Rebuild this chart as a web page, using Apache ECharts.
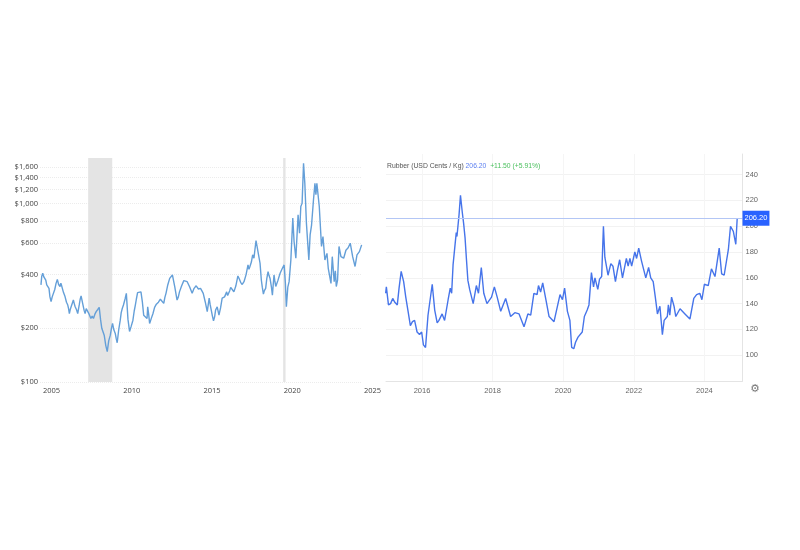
<!DOCTYPE html>
<html>
<head>
<meta charset="utf-8">
<style>
  html, body { margin: 0; padding: 0; background: #fff; }
  #chart { width: 800px; height: 550px; }
</style>
<script src="https://cdn.jsdelivr.net/npm/echarts@6/dist/echarts.min.js"></script>
</head>
<body>
<div id="chart"></div>
<script>
// left panel, log scale price in dollars: [year, price]
const leftPrices = [
  [2005.06,350],[2005.11,392],[2005.17,407],[2005.24,388],[2005.31,398],[2005.36,372],[2005.42,350],[2005.48,352],[2005.56,335],[2005.62,300],[2005.69,282],[2005.76,300],[2005.83,295],[2005.92,330],
  [2006.0,357],[2006.08,376],[2006.16,352],[2006.25,343],[2006.30,358],[2006.35,346],[2006.46,318],[2006.50,325],[2006.56,301],[2006.65,280],[2006.73,270],[2006.78,258],[2006.83,242],[2006.88,254],[2006.94,264],
  [2007.01,270],[2007.08,288],[2007.13,276],[2007.19,264],[2007.27,255],[2007.35,242],[2007.45,272],[2007.50,290],[2007.56,304],[2007.68,270],[2007.75,252],[2007.81,242],[2007.88,258],[2007.96,262],
  [2008.06,240],[2008.17,227],[2008.25,234],[2008.33,227],[2008.42,240],[2008.5,248],[2008.6,255],[2008.69,262],[2008.77,225],[2008.85,200],[2008.92,195],
  [2009.0,183],[2009.1,160],[2009.19,148],[2009.28,170],[2009.38,183],[2009.45,200],[2009.52,213],[2009.6,196],[2009.69,187],[2009.75,175],[2009.81,166],[2009.9,195],
  [2010.0,222],[2010.06,245],[2010.13,259],[2010.2,270],[2010.3,292],[2010.38,314],[2010.48,225],[2010.58,192],[2010.68,205],[2010.79,222],[2010.87,250],[2010.94,270],
  [2011.0,290],[2011.08,317],[2011.18,310],[2011.29,320],[2011.38,280],[2011.46,237],[2011.56,232],[2011.67,227],[2011.71,264],[2011.77,240],[2011.83,213],[2011.94,228],
  [2012.04,242],[2012.14,262],[2012.25,273],[2012.38,280],[2012.5,291],[2012.6,285],[2012.71,276],[2012.78,298],[2012.85,314],[2012.96,350],
  [2013.08,381],[2013.16,372],[2013.25,398],[2013.4,340],[2013.54,288],[2013.62,300],[2013.69,320],[2013.82,345],[2013.96,370],
  [2014.07,375],[2014.17,365],[2014.32,342],[2014.48,314],[2014.6,335],[2014.73,346],[2014.87,332],
  [2015.0,335],[2015.08,325],[2015.17,314],[2015.3,280],[2015.42,248],[2015.54,295],[2015.6,272],[2015.67,253],[2015.74,235],[2015.81,220],[2015.88,232],[2015.94,253],
  [2016.04,264],[2016.15,237],[2016.25,260],[2016.35,295],[2016.5,300],[2016.63,320],[2016.69,305],[2016.75,311],[2016.82,325],[2016.88,339],[2016.98,330],
  [2017.08,320],[2017.2,345],[2017.33,393],[2017.42,378],[2017.5,362],[2017.6,352],[2017.71,365],[2017.84,400],[2017.96,453],
  [2018.02,428],[2018.08,444],[2018.17,470],[2018.25,516],[2018.33,494],[2018.4,560],[2018.46,621],[2018.6,526],[2018.71,463],[2018.79,373],[2018.85,340],[2018.92,311],[2018.98,325],
  [2019.06,335],[2019.13,380],[2019.21,416],[2019.27,395],[2019.33,382],[2019.42,340],[2019.48,307],[2019.53,350],[2019.58,398],[2019.63,370],[2019.69,343],[2019.82,370],[2019.96,407],
  [2020.08,430],[2020.21,453],[2020.29,357],[2020.35,264],[2020.44,340],[2020.52,365],[2020.63,483],[2020.75,829],[2020.83,613],[2020.94,494],
  [2021.08,866],[2021.17,682],[2021.25,963],[2021.33,1003],[2021.42,1680],[2021.5,1300],[2021.6,775],[2021.75,483],[2021.83,668],[2021.92,758],
  [2022.04,1050],[2022.13,1300],[2022.19,1120],[2022.25,1300],[2022.4,963],[2022.54,575],[2022.63,654],[2022.75,483],[2022.88,526],[2022.96,434],
  [2023.13,357],[2023.21,504],[2023.33,365],[2023.4,420],[2023.46,343],[2023.54,373],[2023.63,575],[2023.75,504],[2023.92,494],
  [2024.06,548],[2024.2,565],[2024.33,600],[2024.48,504],[2024.63,444],[2024.75,516],[2024.9,538],[2025.04,587]
];
const leftTicks = [100,200,400,600,800,1000,1200,1400,1600];
const leftYearTicks = [2005,2010,2015,2020,2025];
const recessions = [[2008.0,2009.5],[2020.15,2020.3]];

// right panel, rubber price
const rightYears = [2014.97,2014.99,2015.05,2015.11,2015.17,2015.23,2015.30,2015.35,2015.41,2015.48,2015.54,2015.60,2015.67,2015.73,2015.79,2015.86,2015.93,2015.99,2016.04,2016.10,2016.17,2016.22,2016.29,2016.36,2016.43,2016.48,2016.57,2016.64,2016.74,2016.80,2016.84,2016.88,2016.92,2016.97,2016.99,2017.05,2017.09,2017.12,2017.14,2017.18,2017.22,2017.26,2017.30,2017.35,2017.45,2017.54,2017.60,2017.68,2017.75,2017.84,2017.97,2018.05,2018.13,2018.23,2018.37,2018.51,2018.63,2018.75,2018.89,2019.0,2019.08,2019.17,2019.26,2019.30,2019.36,2019.42,2019.51,2019.60,2019.74,2019.91,2019.98,2020.04,2020.12,2020.19,2020.24,2020.30,2020.35,2020.42,2020.47,2020.54,2020.60,2020.68,2020.73,2020.80,2020.86,2020.90,2020.98,2021.03,2021.09,2021.14,2021.18,2021.21,2021.27,2021.35,2021.41,2021.48,2021.53,2021.60,2021.68,2021.79,2021.84,2021.89,2021.94,2022.03,2022.08,2022.14,2022.22,2022.34,2022.42,2022.48,2022.55,2022.61,2022.67,2022.74,2022.81,2022.86,2022.95,2022.98,2023.02,2023.07,2023.14,2023.19,2023.31,2023.45,2023.59,2023.70,2023.78,2023.87,2023.93,2024.0,2024.11,2024.20,2024.30,2024.42,2024.49,2024.56,2024.68,2024.74,2024.82,2024.89,2024.93];
const rightValues = [148,153,139,140,144,141,139,152,165,157,145,135,123,126,127,118,116,118,108,106,131,131,155,135,125,127,132,127,143,152,148,170,171,195,192,209,224,223,211,202,191,174,158,151,140,154,148,168,148,140,145,153,145,134,144,130,133,132,122,132,131,148,147,154,149,156,143,130,126,147,143,152,134,127,106,105,110,114,113,118,130,135,139,164,153,160,151,159,161,200,176,177,162,171,169,157,165,174,160,175,169,175,169,180,175,183,173,160,168,160,157,145,132,138,116,127,130,139,131,145,138,130,136,132,128,144,147,148,143,155,154,167,161,183,163,162,182,200,196,186,206.2];
const rightYearTicks = [2016,2018,2020,2022,2024];
const lastPrice = 206.2;

const zip = (xs, ys) => xs.map((x, i) => [x, ys[i]]);

const chart = echarts.init(document.getElementById('chart'));
chart.setOption({
  animation: false,
  backgroundColor: '#fff',
  title: {
    left: 387,
    top: 163,
    padding: 0,
    text: 'Rubber (USD Cents / Kg) {v|206.20}  {c|+11.50 (+5.91%)}',
    textStyle: {
      fontFamily: 'Liberation Sans',
      fontSize: 6.8,
      fontWeight: 'normal',
      color: '#555',
      rich: {
        v: { fontFamily: 'Liberation Sans', fontSize: 6.8, color: '#5b7ff0' },
        c: { fontFamily: 'Liberation Sans', fontSize: 6.8, color: '#4cc05f' }
      }
    }
  },
  graphic: [
    {
      type: 'text',
      left: 750,
      top: 384,
      style: { text: '⚙', fontFamily: 'DejaVu Sans', fontSize: 11, fill: '#777' }
    }
  ],
  grid: [
    { left: 40, top: 158, width: 321, height: 224 },
    { left: 386, top: 154, width: 356.5, height: 227 }
  ],
  xAxis: [
    {
      gridIndex: 0,
      type: 'value',
      min: 2005,
      max: 2025,
      interval: 5,
      axisLine: { show: false },
      axisTick: { show: false },
      splitLine: { show: false },
      axisLabel: {
        align: 'left',
        margin: 5,
        padding: [0, 0, 0, 3],
        fontFamily: 'Open Sans',
        fontSize: 7.5,
        color: '#444',
        formatter: v => String(v),
        customValues: leftYearTicks
      }
    },
    {
      gridIndex: 1,
      type: 'value',
      min: 2014.98,
      max: 2025.08,
      axisLine: { show: true, lineStyle: { color: '#e4e4e4' } },
      axisTick: { show: false, customValues: rightYearTicks },
      splitLine: { show: true, lineStyle: { color: '#f5f5f5' } },
      axisLabel: {
        margin: 6,
        fontFamily: 'Liberation Sans',
        fontSize: 7.5,
        color: '#666',
        formatter: v => String(v),
        customValues: rightYearTicks
      }
    }
  ],
  yAxis: [
    {
      gridIndex: 0,
      type: 'log',
      logBase: 2,
      min: 100,
      max: 1801,
      axisLine: { show: false },
      axisTick: { show: false, customValues: leftTicks },
      splitLine: { show: true, lineStyle: { color: '#ececec', type: 'dotted', width: 1 } },
      axisLabel: {
        margin: 2,
        fontFamily: 'Open Sans',
        fontSize: 7.5,
        color: '#444',
        formatter: v => '$' + Number(v).toLocaleString('en-US'),
        customValues: leftTicks
      }
    },
    {
      gridIndex: 1,
      type: 'value',
      position: 'right',
      min: 80,
      max: 256,
      interval: 20,
      axisLine: { show: true, lineStyle: { color: '#e4e4e4' } },
      axisTick: { show: false },
      splitLine: { show: true, showMaxLine: false, lineStyle: { color: '#f2f2f2' } },
      axisLabel: {
        margin: 3,
        showMinLabel: false,
        showMaxLabel: false,
        fontFamily: 'Liberation Sans',
        fontSize: 7.5,
        color: '#666'
      }
    }
  ],
  series: [
    {
      type: 'line',
      xAxisIndex: 0,
      yAxisIndex: 0,
      showSymbol: false,
      lineStyle: { color: '#649fd8', width: 1.4 },
      data: leftPrices,
      markArea: {
        silent: true,
        itemStyle: { color: '#e4e4e4' },
        data: recessions.map(r => [{ xAxis: r[0] }, { xAxis: r[1] }])
      }
    },
    {
      type: 'line',
      xAxisIndex: 1,
      yAxisIndex: 1,
      showSymbol: false,
      lineStyle: { color: '#4674ea', width: 1.4 },
      data: zip(rightYears, rightValues),
      markLine: {
        silent: true,
        symbol: 'none',
        lineStyle: { color: '#b3c6f5', type: 'solid', width: 1 },
        label: {
          position: 'end',
          distance: 0,
          fontFamily: 'Liberation Sans',
          fontSize: 7.5,
          color: '#fff',
          backgroundColor: '#2962ff',
          padding: [4, 2, 3, 2],
          formatter: p => p.value.toFixed(2)
        },
        data: [{ yAxis: lastPrice }]
      }
    }
  ]
});
</script>
</body>
</html>
